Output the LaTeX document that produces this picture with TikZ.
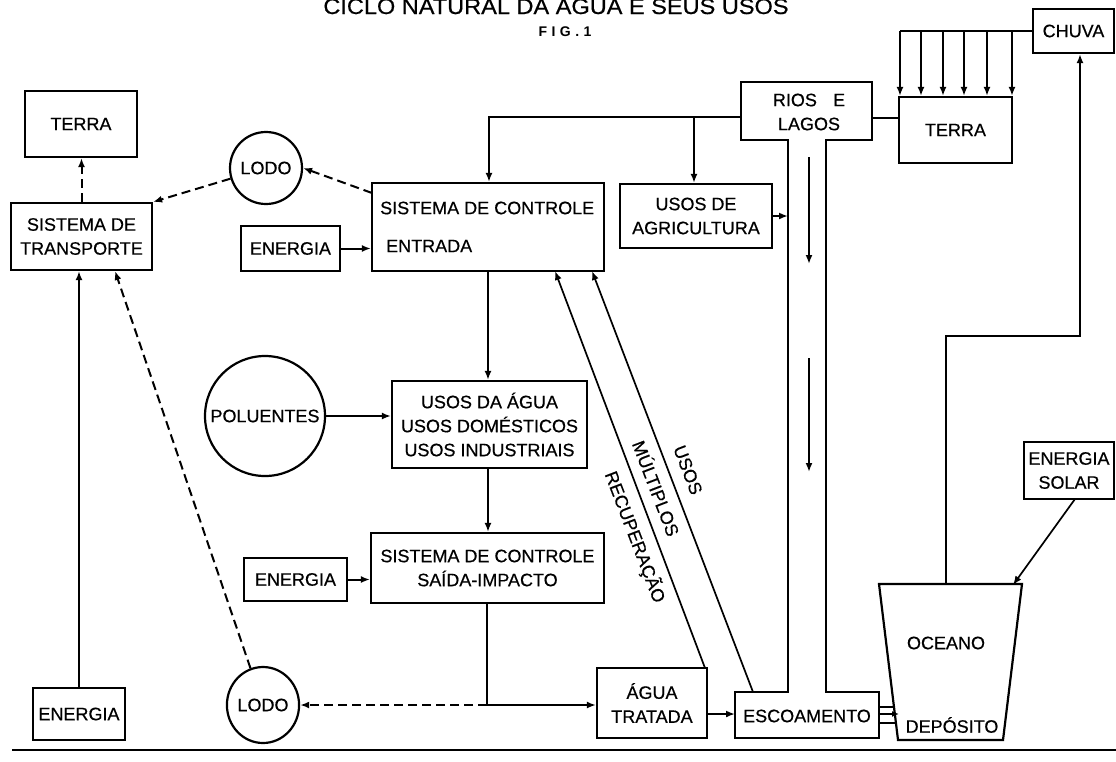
\documentclass[tikz,border=0pt]{standalone}
\usepackage{fontspec}
\setmainfont{Liberation Sans}
\newfontfamily\myface{Liberation Sans}[FakeBold=0.5]
\usetikzlibrary{arrows.meta,shapes.geometric}
\newcommand\mylbl{\myface\fontsize{18}{24}\selectfont}
\tikzset{
 box/.style={draw,line width=2.2pt,inner sep=0pt,align=center,font=\mylbl},
 txt/.style={inner sep=0pt,font=\mylbl,align=center},
 conn/.style={line width=2pt},
 arr/.style={conn,-{Latex[length=9pt,width=7pt]}},
 dsh/.style={arr,dash pattern=on 9pt off 5pt},
 outline/.style={line width=2.2pt,line join=miter},
}
\begin{document}
\begin{tikzpicture}[x=1pt,y=-1pt]
\useasboundingbox (0,0) rectangle (1116,761);
% title
\node[anchor=base,inner sep=0pt,font=\myface\fontsize{22}{26}\selectfont] (title) at (556,14) {\scalebox{1.07}[1]{CICLO NATURAL DA ÁGUA E SEUS USOS}};
\node[inner sep=0pt,font=\fontsize{14}{16}\selectfont\bfseries] (fig) at (565,32) {F\kern4.5pt I\kern4.5pt G\kern4.5pt .\kern4.5pt 1};

% boxes
\node[box,minimum width=81pt,minimum height=44pt] (chuva) at (1073.5,31) {CHUVA};
\node[box,minimum width=113pt,minimum height=66pt] (terraR) at (955.5,130) {TERRA};
\node[box,minimum width=112pt,minimum height=66pt] (terraL) at (81,124) {TERRA};
\node[box,minimum width=141pt,minimum height=67pt] (transp) at (81.5,236.5) {SISTEMA DE\\TRANSPORTE};
\node[box,circle,minimum size=72pt] (lodoA) at (266,168) {LODO};
\node[box,minimum width=99pt,minimum height=45pt] (enA) at (290.5,248.5) {ENERGIA};
\node[box,minimum width=232pt,minimum height=88pt] (sce) at (488,227) {};
\node[txt,anchor=west] (sceA) at (380,208) {SISTEMA DE CONTROLE};
\node[txt,anchor=west] (sceB) at (386,246) {ENTRADA};
\node[box,minimum width=152pt,minimum height=64pt] (agri) at (696,216) {USOS DE\\AGRICULTURA};
\node[box,circle,minimum size=120pt] (polu) at (265,416) {POLUENTES};
\node[box,minimum width=195pt,minimum height=87pt] (usos) at (489.5,424.5) {USOS DA ÁGUA\\USOS DOMÉSTICOS\\USOS INDUSTRIAIS};
\node[box,minimum width=233pt,minimum height=70pt] (sci) at (487.5,568) {SISTEMA DE CONTROLE\\SAÍDA-IMPACTO};
\node[box,minimum width=103pt,minimum height=43pt] (enB) at (295.5,579.5) {ENERGIA};
\node[box,minimum width=92pt,minimum height=52pt] (enC) at (79,714) {ENERGIA};
\node[box,ellipse,minimum width=70pt,minimum height=76pt] (lodoB) at (263,705) {LODO};
\node[box,minimum width=110pt,minimum height=70pt] (agua) at (652,703) {ÁGUA\\TRATADA};
\node[box,minimum width=90pt,minimum height=57pt] (solar) at (1069,470.5) {ENERGIA\\SOLAR};

% rios e lagos + pipe + escoamento
\node[txt] (rios) at (809,112) {RIOS\hspace{0.9em}E\\LAGOS};
\node[txt] (escoa) at (807,716) {ESCOAMENTO};
\draw[outline] (788,140) -- (741,140) -- (741,82) -- (872,82) -- (872,140) -- (826,140)
  -- (826,692) -- (879,692) -- (879,738) -- (735,738) -- (735,692) -- (788,692) -- cycle;

% oceano
\draw[outline] (879,584) -- (1022,584) -- (1003,740) -- (898,740) -- cycle;
\node[txt] (oceano) at (946,643) {OCEANO};
\node[txt] (depo) at (952,725) {DEPÓSITO};

% rain
\coordinate (rainY) at (900,31);
\draw[conn] (chuva.west) -- (rainY);
\foreach \x in {900,921,943,964,987,1012} {
  \path (\x,0) coordinate (tmp);
  \draw[arr] (rainY -| tmp) -- (terraR.north -| tmp);
}

% rios connections
\coordinate (riosE) at (872,118);
\draw[conn] (riosE) -- (terraR.west |- riosE);
\coordinate (riosW) at (741,117);
\coordinate (jA) at (489,117);
\coordinate (jB) at (694,117);
\draw[arr] (riosW) -- (jA) -- (sce.north -| jA);
\draw[arr] (jB) -- (agri.north -| jB);
\coordinate (pipeL) at (788,216);
\draw[arr] (agri.east) -- (pipeL);
\coordinate (pa1) at (809,157);
\coordinate (pa2) at (809,264);
\coordinate (pa3) at (809,358);
\coordinate (pa4) at (809,472);
\draw[arr] (pa1) -- (pa2);
\draw[arr] (pa3) -- (pa4);

% central column
\draw[arr] (sce.south) -- (usos.north -| sce.south);
\draw[arr] (usos.south -| sce.south) -- (sci.north -| sce.south);
\draw[arr] (polu.east) -- (usos.west |- polu.east);
\draw[arr] (enA.east) -- (sce.west |- enA.east);
\draw[arr] (enB.east) -- (sci.west |- enB.east);
\coordinate (jC) at (487,705);
\draw[arr] (sci.south -| jC) -- (jC) -- (agua.west |- jC);
\draw[dsh] (jC) -- (lodoB.east);
\coordinate (escW) at (735,714);
\draw[arr] (agua.east |- escW) -- (escW);

% diagonals
\coordinate (d1a) at (705,668);
\coordinate (d1b) at (555,271);
\coordinate (d2a) at (753,692);
\coordinate (d2b) at (592,271);
\draw[arr,line width=1.7pt] (d1a) -- (d1b);
\draw[arr,line width=1.7pt] (d2a) -- (d2b);
\node[txt,rotate=-69] (lu) at (688,470) {USOS};
\node[txt,rotate=-69] (lm) at (657,488) {MÚLTIPLOS};
\node[txt,rotate=-69] (lr) at (635,537) {RECUPERAÇÃO};

% escoamento -> deposito
\coordinate (e1) at (879,707); \coordinate (o1) at (894.5,707);
\coordinate (e2) at (879,714); \coordinate (o2) at (899,714);
\coordinate (e3) at (879,723); \coordinate (o3) at (896.5,723);
\draw[conn,line width=1.6pt] (e1) -- (o1);
\draw[conn,line width=1.6pt,-{Latex[length=7pt,width=6pt]}] (e2) -- (o2);
\draw[conn,line width=1.6pt] (e3) -- (o3);

% oceano -> chuva, solar -> oceano
\coordinate (ocTop) at (946,584);
\coordinate (k1) at (946,336);
\coordinate (k2) at (1080,336);
\draw[arr] (ocTop) -- (k1) -- (k2) -- (chuva.south -| k2);
\coordinate (sS) at (1075,499);
\coordinate (ocArr) at (1013,585);
\draw[arr,line width=1.7pt] (sS) -- (ocArr);

% left side
\coordinate (sceNW) at (372,193);
\draw[dsh] (sceNW) -- (lodoA.east);
\draw[dsh] (lodoA) -- (transp.north east);
\draw[dsh] (transp.north) -- (terraL.south -| transp.north);
\draw[arr] (enC.north) -- (transp.south -| enC.north);
\coordinate (tpS) at (115,271);
\draw[dsh] (lodoB) -- (tpS);

% bottom rule
\coordinate (r1) at (12,750);
\coordinate (r2) at (1116,750);
\draw[line width=2pt] (r1) -- (r2);
\end{tikzpicture}
\end{document}
